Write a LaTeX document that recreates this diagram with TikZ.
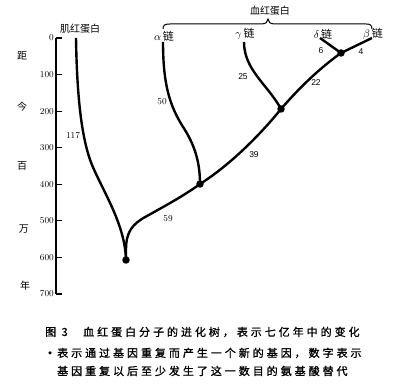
\documentclass[tikz,border=0pt]{standalone}
\usepackage{fontspec}
\newfontfamily\cjk{Noto Sans CJK SC}
\newfontfamily\cjkcap[LetterSpace=27,FakeBold=1.2]{Noto Sans CJK SC}
\newfontfamily\numsans{Liberation Sans}
\begin{document}
\begin{tikzpicture}[x=1pt,y=-1pt,
  branch/.style={line width=2.4pt},
  dotnode/.style={circle, fill=black, inner sep=0pt, minimum size=7.5pt},
  axisline/.style={line width=1.2pt},
  num/.style={font=\fontsize{9}{10}\selectfont, inner sep=0pt},
  lab/.style={font=\numsans\fontsize{8.5}{10}\selectfont, inner sep=0pt},
  zh/.style={font=\cjk\fontsize{10}{12}\selectfont, inner sep=0pt},
  captext/.style={font=\cjkcap\fontsize{11}{13}\selectfont, inner sep=0pt, anchor=west}]
\useasboundingbox (0,0) rectangle (400,387);
% axis
\draw[axisline] (56,38) -- (56,294);
\foreach \v/\t in {0/0,1/100,2/200,3/300,4/400,5/500,6/600,7/700}{
  \draw[axisline] (56,38+\v*36.57) -- (62,38+\v*36.57);
  \node[num, anchor=east] (ax\v) at (54,38+\v*36.57) {\t};
}
\node[zh] (y1) at (22,56) {距};
\node[zh] (y2) at (22,107) {今};
\node[zh] (y3) at (22,166) {百};
\node[zh] (y4) at (24,229) {万};
\node[zh] (y5) at (25,286) {年};
% leaf labels
\node[zh] (myo) at (80,29) {肌红蛋白};
\node[zh] (la) at (164,36) {\fontsize{11}{12}\selectfont$\alpha$\,链};
\node[zh] (lg) at (245,34) {\fontsize{11}{12}\selectfont$\gamma$\,链};
\node[zh] (ld) at (323,34) {\fontsize{11}{12}\selectfont$\delta$\,链};
\node[zh] (lb) at (373,34) {\fontsize{11}{12}\selectfont$\beta$\,链};
\node[zh] (hb) at (270,11) {血红蛋白};
\draw[line width=1pt] (163,29) .. controls (163,25) and (165,24) .. (170,24) -- (261,24)
  .. controls (266,24) and (268,22) .. (268,19)
  .. controls (268,22) and (270,24) .. (275,24) -- (366,24)
  .. controls (370,24) and (372,25) .. (372,29);
% leaf ends
\coordinate (em) at (76,38);
\coordinate (ea) at (163,42);
\coordinate (eg) at (244,42);
\coordinate (ed) at (320,38);
\coordinate (eb) at (372,38);
% duplication dots
\node[dotnode] (n0) at (126,260) {};
\node[dotnode] (n1) at (200,184) {};
\node[dotnode] (n2) at (281,109) {};
\node[dotnode] (n3) at (341,53) {};
% branches
\draw[branch] (em) .. controls (77,100) and (82,140) .. (92,165)
  .. controls (105,195) and (125,225) .. (n0.center);
\draw[branch] (n0.center) -- (126,250) .. controls (126,232) and (132,224) .. (147,216)
  .. controls (165,206) and (185,195) .. (n1.center);
\draw[branch] (ea) .. controls (163,90) and (172,110) .. (185,130)
  .. controls (196,148) and (200,165) .. (n1.center);
\draw[branch] (n1.center) .. controls (230,165) and (260,135) .. (n2.center);
\draw[branch] (eg) .. controls (244,70) and (268,85) .. (n2.center);
\draw[branch] (n2.center) .. controls (300,87) and (320,68) .. (n3.center);
\draw[branch] (ed) -- (n3.center);
\draw[branch] (n3.center) -- (eb);
% branch numbers
\node[num] (c117) at (73,136) {117};
\node[num] (c50) at (162,102) {50};
\node[num] (c59) at (168,219) {59};
\node[lab] (c39) at (254,155) {39};
\node[lab] (c25) at (243,77) {25};
\node[lab] (c22) at (316,83) {22};
\node[lab] (c6) at (321,51) {6};
\node[lab] (c4) at (361,52) {4};
% caption
\node[captext] (t0) at (45,332) {图 3};
\node[captext] (t1) at (83,332) {血红蛋白分子的进化树，表示七亿年中的变化};
\node[circle, fill=black, inner sep=0pt, minimum size=3.5pt] (bul) at (50,353) {};
\node[captext] (t2) at (57,353) {表示通过基因重复而产生一个新的基因，数字表示};
\node[captext] (t3) at (57,371) {基因重复以后至少发生了这一数目的氨基酸替代};
\end{tikzpicture}
\end{document}
